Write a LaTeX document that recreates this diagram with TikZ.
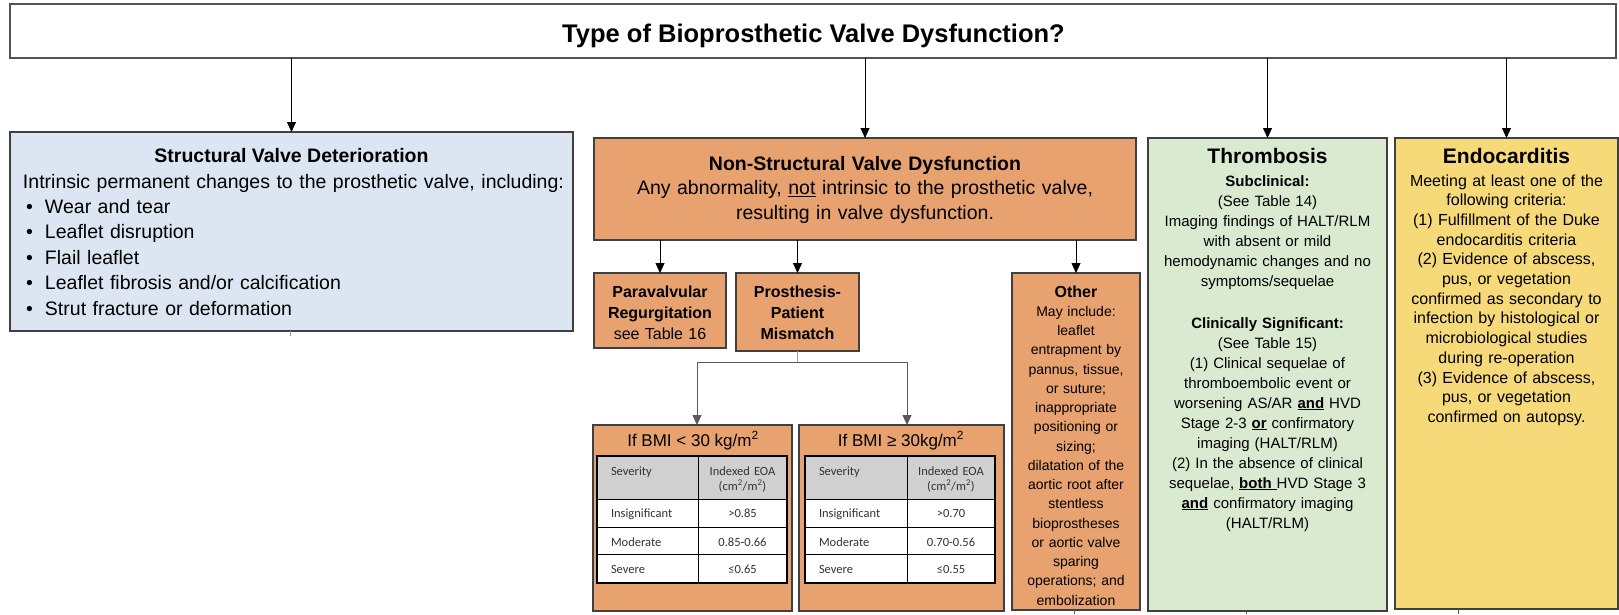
\documentclass[tikz,border=0pt]{standalone}
\usepackage{fontspec}
\setmainfont{Liberation Sans}
\newfontfamily\calfont{Carlito}
\usetikzlibrary{arrows.meta}
\definecolor{bdr}{HTML}{404040}
\definecolor{svdblue}{HTML}{DCE6F2}
\definecolor{nsorange}{HTML}{E8A270}
\definecolor{thrgreen}{HTML}{D9EAD0}
\definecolor{endyellow}{HTML}{F6DA7A}
\definecolor{hdrgray}{HTML}{D0D0D0}
\definecolor{tbltext}{HTML}{333333}
\definecolor{lnkgray}{HTML}{5A5A5A}
\definecolor{lnkblue}{HTML}{8EA2C0}
\newcommand\fsz[2]{\fontsize{#1}{#2}\selectfont}
\tikzset{
  box/.style={draw=bdr, line width=1.3pt, inner sep=0pt, outer sep=0pt, anchor=north west},
  txt/.style={inner sep=0pt, outer sep=0pt, anchor=base, align=center},
  arr/.style={-{Triangle[length=10pt,width=9pt]}, line width=0.8pt, black},
  stub/.style={draw=lnkgray, line width=0.8pt},
  tbl/.style={inner sep=0pt, outer sep=0pt, anchor=base, font=\calfont\fsz{12.5}{15}, text=tbltext},
}
\newcommand\eoatable[7]{%
  \fill[hdrgray] (#2,456) rectangle (#4,499);
  \fill[white] (#2,499) rectangle (#4,583);
  \draw[black, line width=0.9pt] (#2,499) -- (#4,499) (#2,527) -- (#4,527) (#2,554) -- (#4,554) (#3,456) -- (#3,583);
  \draw[black, line width=1.8pt] (#2,456) rectangle (#4,583);
  \node[tbl, anchor=base west] (#1h1) at (#2+14,475) {Severity};
  \node[tbl, align=center, text width=90pt] (#1h2) at ({(#3+#4)/2},475) {Indexed EOA\\(cm\textsuperscript{2}/m\textsuperscript{2})};
  \node[tbl, anchor=base west] (#1a1) at (#2+14,517) {Insignificant};
  \node[tbl] (#1a2) at ({(#3+#4)/2},517) {#5};
  \node[tbl, anchor=base west] (#1b1) at (#2+14,546) {Moderate};
  \node[tbl] (#1b2) at ({(#3+#4)/2},546) {#6};
  \node[tbl, anchor=base west] (#1c1) at (#2+14,573) {Severe};
  \node[tbl] (#1c2) at ({(#3+#4)/2},573) {#7};
}
\begin{document}
\begin{tikzpicture}[x=1pt,y=-1pt]
\useasboundingbox[fill=white] (0,0) rectangle (1619,614);

% boxes
\node[box, draw=bdr!90, line width=2pt, fill=white, minimum width=1606pt, minimum height=54pt] (top) at (10,4) {};
\node[box, fill=svdblue, minimum width=563pt, minimum height=199pt] (svd) at (10,132) {};
\node[box, fill=nsorange, minimum width=542pt, minimum height=102pt] (nsvd) at (594,138) {};
\node[box, fill=nsorange, minimum width=132pt, minimum height=75pt] (para) at (594,273) {};
\node[box, fill=nsorange, minimum width=123pt, minimum height=78pt] (ppm) at (736,273) {};
\node[box, fill=nsorange, minimum width=128pt, minimum height=337pt] (other) at (1012,273) {};
\node[box, fill=nsorange, minimum width=199pt, minimum height=186pt] (t1) at (593,425) {};
\node[box, fill=nsorange, minimum width=205pt, minimum height=186pt] (t2) at (799,425) {};
\node[box, fill=thrgreen, minimum width=239pt, minimum height=473pt] (thr) at (1148,138) {};
\node[box, fill=endyellow, minimum width=223pt, minimum height=471pt] (endo) at (1395,138) {};

% title
\node[txt, font=\bfseries\fsz{25.5}{30}] (title) at (813.5,42) {Type of Bioprosthetic Valve Dysfunction?};

% SVD
\node[txt, font=\bfseries\fsz{19.5}{25}] (svdt) at (291.5,162) {Structural Valve Deterioration};
\node[txt, anchor=base west, align=left, text width=545pt, font=\fsz{19.5}{25.4}] (svdb) at (23,188) {Intrinsic permanent changes to the prosthetic valve, including:\\
\hspace*{3pt}\makebox[19pt][l]{•}Wear and tear\\
\hspace*{3pt}\makebox[19pt][l]{•}Leaflet disruption\\
\hspace*{3pt}\makebox[19pt][l]{•}Flail leaflet\\
\hspace*{3pt}\makebox[19pt][l]{•}Leaflet fibrosis and/or calcification\\
\hspace*{3pt}\makebox[19pt][l]{•}Strut fracture or deformation};

% NSVD
\node[txt, text width=530pt, font=\fsz{19.5}{24.5}] (nsvdt) at (865,170) {\textbf{Non-Structural Valve Dysfunction}\\
Any abnormality, \underline{not} intrinsic to the prosthetic valve,\\
resulting in valve dysfunction.};

\node[txt, text width=128pt, font=\fsz{16}{21}] (parat) at (660,297) {\textbf{Paravalvular}\\\textbf{Regurgitation}\\see Table 16};
\node[txt, text width=120pt, font=\bfseries\fsz{16}{21}] (ppmt) at (797.5,297) {Prosthesis-\\Patient\\Mismatch};

\node[txt, text width=126pt, font=\fsz{14}{19.25}] (othert) at (1076,297) {{\bfseries\fsz{16}{19.25}Other}\\May include:\\leaflet\\entrapment by\\pannus, tissue,\\or suture;\\inappropriate\\positioning or\\sizing;\\dilatation of the\\aortic root after\\stentless\\bioprostheses\\or aortic valve\\sparing\\operations; and\\embolization};

% tables
\node[txt, font=\fsz{17}{20}] (t1t) at (693,446) {If BMI < 30 kg/m\textsuperscript{2}};
\node[txt, font=\fsz{17}{20}] (t2t) at (901,446) {If BMI ≥ 30kg/m\textsuperscript{2}};
\eoatable{ta}{597}{698}{787}{>0.85}{0.85-0.66}{≤0.65}
\eoatable{tb}{805}{907}{995}{>0.70}{0.70-0.56}{≤0.55}

% Thrombosis
\node[txt, font=\bfseries\fsz{21}{24}] (thrt) at (1267.5,163) {Thrombosis};
\node[txt, text width=236pt, font=\fsz{15}{20}] (thrb) at (1267.5,186) {\textbf{Subclinical:}\\
(See Table 14)\\
Imaging findings of HALT/RLM\\
with absent or mild\\
hemodynamic changes and no\\
symptoms/sequelae\\[22pt]
\textbf{Clinically Significant:}\\
(See Table 15)\\
(1) Clinical sequelae of\\
thromboembolic event or\\
worsening AS/AR \textbf{\underline{and}} HVD\\
Stage 2-3 \textbf{\underline{or}} confirmatory\\
imaging (HALT/RLM)\\
(2) In the absence of clinical\\
sequelae, \textbf{\underline{both\ }}HVD Stage 3\\
\textbf{\underline{and}} confirmatory imaging\\
(HALT/RLM)};

% Endocarditis
\node[txt, font=\bfseries\fsz{21}{24}] (endt) at (1506.5,163) {Endocarditis};
\node[txt, text width=220pt, font=\fsz{16}{19.7}] (endb) at (1506.5,186) {Meeting at least one of the\\
following criteria:\\
(1) Fulfillment of the Duke\\
endocarditis criteria\\
(2) Evidence of abscess,\\
pus, or vegetation\\
confirmed as secondary to\\
infection by histological or\\
microbiological studies\\
during re-operation\\
(3) Evidence of abscess,\\
pus, or vegetation\\
confirmed on autopsy.};

% connectors
\draw[arr] (top.south -| svd.north) -- (svd.north);
\draw[arr] (top.south -| nsvd.north) -- (nsvd.north);
\draw[arr] (top.south -| thr.north) -- (thr.north);
\draw[arr] (top.south -| endo.north) -- (endo.north);
\draw[arr] (nsvd.south -| para.north) -- (para.north);
\draw[arr] (nsvd.south -| ppm.north) -- (ppm.north);
\draw[arr] (nsvd.south -| other.north) -- (other.north);

\coordinate (j1) at (697,362);
\coordinate (j2) at (907,362);
\draw[lnkblue, line width=0.8pt] (ppm.south) -- (ppm.south |- j1);
\draw[lnkgray, line width=1pt] (j1) -- (j2);
\draw[arr, lnkgray] (j1) -- (j1 |- t1.north);
\draw[arr, lnkgray] (j2) -- (j2 |- t2.north);

% connector stubs leaving the picture
\coordinate (e0) at (290,336);
\coordinate (e1) at (1074,614);
\coordinate (e2) at (1246,614);
\coordinate (e3) at (1458,614);
\draw[stub, draw=lnkgray!60] (svd.south -| e0) -- (e0);
\draw[stub] (other.south -| e1) -- (e1);
\draw[stub] (thr.south -| e2) -- (e2);
\draw[stub] (endo.south -| e3) -- (e3);
\end{tikzpicture}
\end{document}
